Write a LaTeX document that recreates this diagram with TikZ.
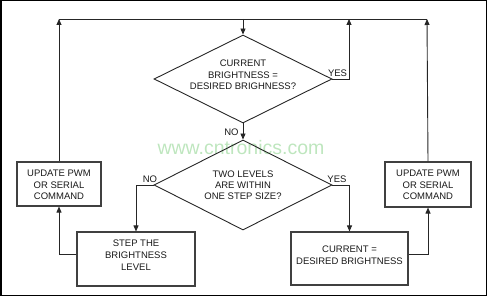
\documentclass[tikz,border=0pt]{standalone}
\usepackage{fontspec}
\setmainfont{Liberation Sans}
\usetikzlibrary{shapes.geometric,arrows.meta,calc}
\begin{document}
\begin{tikzpicture}[x=1pt,y=-1pt,
  line width=0.9pt,
  conn/.style={draw=black!85},
  arr/.style={conn,-{Triangle[length=6pt,width=5pt]}},
  dia/.style={draw=black!85,shape=diamond,inner sep=0pt},
  boxn/.style={draw=black!75,line width=1.1pt,rectangle,inner sep=0pt},
  txt/.style={font=\fontsize{9.5}{11.7}\selectfont,align=center,inner sep=0pt,text=black!90},
  lbl/.style={font=\fontsize{9.5}{11}\selectfont,inner sep=0pt,text=black!90}]
\useasboundingbox (0,0) rectangle (487,296);
\draw[line width=1.5pt] (0.75,0.75) rectangle (486.25,295.25);
% watermark
\node[font=\fontsize{19.5}{22}\selectfont,text={rgb,255:red,190;green,230;blue,190},inner sep=0pt] (wm) at (241,148) {www.cntronics.com};
% shapes
\node[dia,minimum width=178pt,minimum height=88pt] (d1) at (243,79) {};
\node[dia,minimum width=178pt,minimum height=90pt] (d2) at (243,185) {};
\node[boxn,minimum width=84pt,minimum height=44pt] (upL) at (59,184) {};
\node[boxn,minimum width=86pt,minimum height=45pt] (upR) at (428,184.5) {};
\node[boxn,minimum width=118pt,minimum height=54pt] (step) at (136,259) {};
\node[boxn,minimum width=117pt,minimum height=53pt] (cur) at (349.5,258.5) {};
% texts
\node[txt] (t1) at (243,75) {CURRENT\\BRIGHTNESS =\\DESIRED BRIGHNESS?};
\node[txt,font=\fontsize{9.5}{11}\selectfont] (t2) at (243,185) {TWO LEVELS\\ARE WITHIN\\ONE STEP SIZE?};
\node[txt] (t3) at (59,185) {UPDATE PWM\\OR SERIAL\\COMMAND};
\node[txt] (t4) at (428,185) {UPDATE PWM\\OR SERIAL\\COMMAND};
\node[txt] (t5) at (136,255) {STEP THE\\BRIGHTNESS\\LEVEL};
\node[txt] (t6) at (349.5,255) {CURRENT =\\DESIRED BRIGHTNESS};
% coordinates
\coordinate (tl) at (59,19);
\coordinate (tr) at (427,19);
\coordinate (ty) at (349,19);
\coordinate (tm) at (243,19);
% connectors
\draw[conn] (tl) -- (tr);
\draw[arr] (tm) -- (d1.north);
\draw[arr] (d1.east) -- (ty |- d1.east) -- (ty);
\draw[arr] (d1.south) -- (d2.north);
\draw[arr] (d2.west) -| (step.north);
\draw[arr] (d2.east) -| (cur.north);
\draw[arr] ([yshift=5pt]step.west) -| (upL.south);
\draw[arr] ([yshift=4.5pt]cur.east) -| (upR.south);
\draw[arr] (upL.north) -- (tl);
\draw[arr] (upR.north) -- (tr);
% labels
\node[lbl,anchor=south east] (yes1) at (347.5,77) {YES};
\node[lbl,anchor=east] (no1) at (239,132) {NO};
\node[lbl,anchor=south] (no2) at (150,183) {NO};
\node[lbl,anchor=south] (yes2) at (337,183) {YES};
\end{tikzpicture}
\end{document}
